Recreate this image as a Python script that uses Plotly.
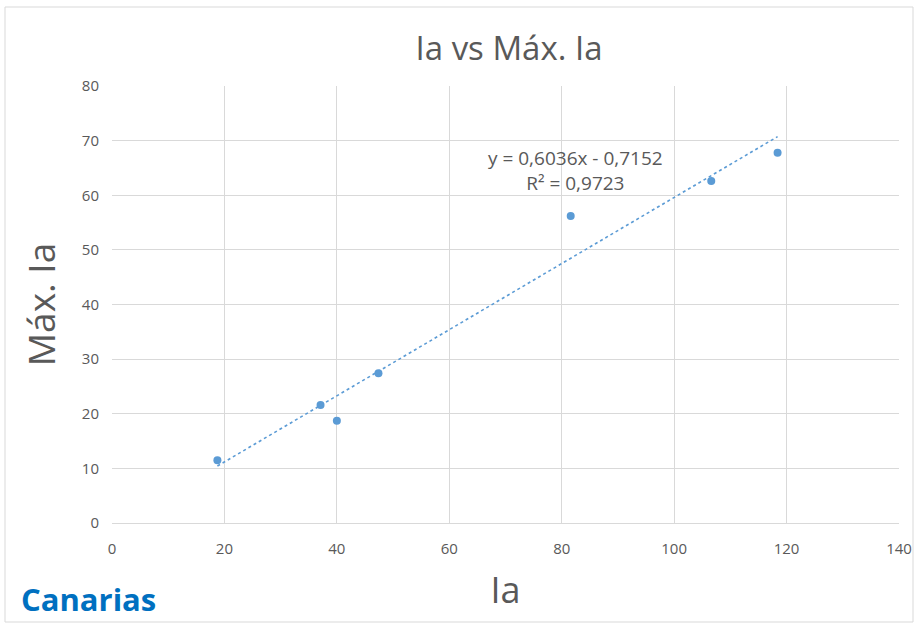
import numpy as np
import plotly.graph_objects as go

# Data
ia = [18.75, 37.1, 40.0, 47.4, 81.6, 106.6, 118.4]
max_ia = [11.5, 21.6, 18.7, 27.4, 56.2, 62.6, 67.8]
x_ticks = [0, 20, 40, 60, 80, 100, 120, 140]
y_ticks = [0, 10, 20, 30, 40, 50, 60, 70, 80]
title_text = "Ia vs Máx. Ia"
x_title = "Ia"
y_title = "Máx. Ia"
eq_text = "y = 0,6036x - 0,7152<br>R² = 0,9723"
region = "Canarias"

slope, intercept = np.polyfit(ia, max_ia, 1)
tx = [min(ia), max(ia)]
ty = [slope * v + intercept for v in tx]

BLUE = "#5B9BD5"
GREY = "#595959"
FONT = "Open Sans"

L, R, T, B = 112, 15, 86, 100
W, H = 914, 623
pw = W - L - R
ph = H - T - B

def px_x(p):
    return (p - L) / pw

def px_y(p):
    return (H - B - p) / ph

fig = go.Figure()
fig.add_trace(go.Scatter(x=tx, y=ty, mode="lines",
                         line=dict(color=BLUE, width=1.6, dash="dot"),
                         hoverinfo="skip", showlegend=False))
fig.add_trace(go.Scatter(x=ia, y=max_ia, mode="markers",
                         marker=dict(color=BLUE, size=8),
                         showlegend=False))

fig.update_layout(
    width=W, height=H,
    paper_bgcolor="white", plot_bgcolor="white",
    margin=dict(l=L, r=R, t=T, b=B, autoexpand=False),
    font=dict(family=FONT, color=GREY),
    title=dict(text=title_text, x=509 / W, xref="container", xanchor="center",
               y=1 - 48 / H, yref="container", yanchor="middle",
               font=dict(size=33, color=GREY, family=FONT)),
    xaxis=dict(range=[0, 140], tickvals=x_ticks, showgrid=True, gridcolor="#D9D9D9",
               gridwidth=1, zeroline=False, showline=True, linecolor="#D9D9D9",
               automargin=False,
               tickfont=dict(size=15, color=GREY), ticklabelstandoff=12,
               title=dict(text=x_title, font=dict(size=36, color=GREY), standoff=20)),
    yaxis=dict(range=[0, 80], tickvals=y_ticks, showgrid=True, gridcolor="#D9D9D9",
               gridwidth=1, zeroline=False, showline=False, automargin=False,
               tickfont=dict(size=15, color=GREY), ticklabelstandoff=12,
               title=dict(text=y_title, font=dict(size=37, color=GREY), standoff=14)),
    annotations=[
        dict(text=eq_text, x=px_x(575), y=px_y(170), xref="paper", yref="paper",
             showarrow=False, font=dict(size=19, color=GREY), align="center",
             xanchor="center", yanchor="middle"),
        dict(text="<b>" + region + "</b>", x=px_x(20), y=px_y(621), xref="paper", yref="paper",
             showarrow=False, font=dict(size=31, color="#0070C0", family=FONT),
             xanchor="left", yanchor="bottom", borderpad=0),
    ],
)

# chart-area border
fig.add_shape(type="rect", xref="paper", yref="paper",
              x0=px_x(5), x1=px_x(913), y0=px_y(622), y1=px_y(7),
              line=dict(color="#D9D9D9", width=1), layer="below")

fig.write_html("out.html")
